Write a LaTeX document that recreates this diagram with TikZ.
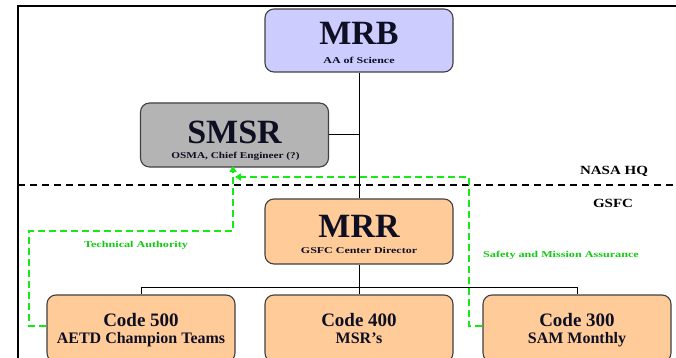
\documentclass[tikz,border=0pt]{standalone}
\usepackage{fontspec}
\setmainfont{Liberation Serif}
\usepackage{graphicx}
\usetikzlibrary{arrows.meta}
\definecolor{lav}{RGB}{204,204,255}
\definecolor{gry}{RGB}{180,180,180}
\definecolor{peach}{RGB}{255,204,153}
\definecolor{grn}{RGB}{20,235,20}
\definecolor{grntxt}{RGB}{20,200,20}
\definecolor{txt}{RGB}{15,15,35}
\newcommand\strtxt[2][1.33]{\scalebox{#1}[1]{#2}}
\begin{document}
\begin{tikzpicture}[x=1pt,y=-1pt,
  box/.style={draw=black!75,line width=1.1pt,rounded corners=9pt,minimum width=188pt,inner sep=0pt},
  bigt/.style={anchor=base,inner sep=0pt,text=txt,font=\fontsize{34}{38}\selectfont\bfseries},
  smallt/.style={anchor=base,inner sep=0pt,text=txt,font=\fontsize{9}{10}\selectfont\bfseries},
  codet/.style={anchor=base,inner sep=0pt,text=txt,font=\fontsize{19}{21}\selectfont\bfseries},
  codes/.style={anchor=base,inner sep=0pt,text=txt,font=\fontsize{16}{18}\selectfont\bfseries},
  zonet/.style={anchor=base,inner sep=0pt,text=black,font=\fontsize{12.5}{14}\selectfont\bfseries},
  greent/.style={anchor=base,inner sep=0pt,text=grntxt,font=\fontsize{9}{10}\selectfont\bfseries},
  conn/.style={draw=black,line width=1pt},
  gline/.style={draw=grn,line width=2pt,dash pattern=on 7pt off 4pt},
  garrow/.style={gline,-{Triangle[length=6pt,width=7pt]}}
]
\clip (0,0) rectangle (676,358);
% frame
\draw[line width=2.6pt] (18,362) -- (18,6) -- (680,6);
% zone separator
\draw[line width=1.2pt,dash pattern=on 7pt off 5pt] (18,185) -- (676,185);
\node[zonet] (hq) at (614,175) {\strtxt[1.2]{NASA HQ}};
\node[zonet] (gsfc) at (613,207) {\strtxt[1.2]{GSFC}};

% boxes
\node[box,fill=lav,minimum height=63pt] (mrb) at (359,40.5) {};
\node[box,fill=gry,minimum height=64pt] (smsr) at (234.5,135) {};
\node[box,fill=peach,minimum height=65pt] (mrr) at (359,231.5) {};
\node[box,fill=peach,minimum height=67pt] (c500) at (141,328.5) {};
\node[box,fill=peach,minimum height=67pt] (c400) at (359,328.5) {};
\node[box,fill=peach,minimum height=67pt] (c300) at (577,328.5) {};

% texts
\node[bigt] (mrbt) at (359,45) {MRB};
\node[smallt] (mrbs) at (359,64) {\strtxt{AA of Science}};
\node[bigt] (smsrt) at (234.5,143) {SMSR};
\node[smallt] (smsrs) at (235.5,158.5) {\strtxt[1.25]{OSMA, Chief Engineer (?)}};
\node[bigt] (mrrt) at (359,237) {MRR};
\node[smallt] (mrrs) at (359,253) {\strtxt{GSFC Center Director}};
\node[codet] (c500t) at (141,326) {Code 500};
\node[codes] (c500s) at (141,343) {AETD Champion Teams};
\node[codet] (c400t) at (359,326) {Code 400};
\node[codes] (c400s) at (359,343) {MSR’s};
\node[codet] (c300t) at (577,326) {Code 300};
\node[codes] (c300s) at (577,343) {SAM Monthly};

% black connectors
\coordinate (bus) at (0,287);
\draw[conn] (mrb.south) -- (mrr.north);
\draw[conn] (smsr.east) -- (smsr.east -| mrb.south);
\draw[conn] (mrr.south) -- (c400.north);
\draw[conn] (c500.north) -- (c500.north |- bus) -- (c300.north |- bus) -- (c300.north);

% green connectors
\coordinate (gy) at (0,326);
\coordinate (ta) at (29,231);
\coordinate (sa) at (469,177);
\draw[garrow] (c500.west |- gy) -- (ta |- gy) -- (ta) -- (233,231) -- (233,166);
\draw[garrow] (c300.west |- gy) -- (sa |- gy) -- (sa) -- (235,177);
\node[greent] (tat) at (136,247) {\strtxt[1.35]{Technical Authority}};
\node[greent] (sat) at (561,257) {\strtxt[1.35]{Safety and Mission Assurance}};
\end{tikzpicture}
\end{document}
